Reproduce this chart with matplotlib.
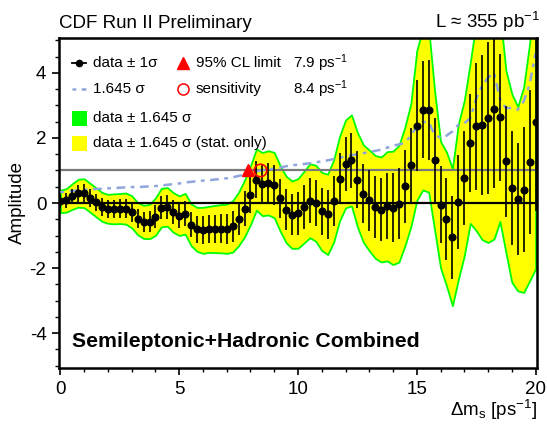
import numpy as np
import matplotlib
matplotlib.use("Agg")
import matplotlib.pyplot as plt
from matplotlib.lines import Line2D
from matplotlib.patches import Rectangle

plt.rcParams['font.family'] = ['Liberation Sans', 'DejaVu Sans']
plt.rcParams['mathtext.fontset'] = 'custom'
plt.rcParams['mathtext.rm'] = 'Liberation Sans'
plt.rcParams['mathtext.it'] = 'Liberation Sans:italic'
plt.rcParams['axes.unicode_minus'] = False

# ---- data ----
dms = np.arange(0, 20.01, 0.25)
amplitude = [
    0.05, 0.08, 0.20, 0.30, 0.30, 0.16, 0.02, -0.12, -0.18, -0.18,
    -0.17, -0.17, -0.27, -0.48, -0.58, -0.57, -0.42, -0.14, -0.12, -0.29,
    -0.39, -0.33, -0.67, -0.81, -0.84, -0.81, -0.80, -0.79, -0.79, -0.72,
    -0.49, -0.17, 0.24, 0.72, 0.58, 0.62, 0.55, 0.14, -0.20, -0.36,
    -0.32, -0.13, 0.07, -0.01, -0.26, -0.35, 0.06, 0.75, 1.20, 1.31,
    0.72, 0.29, 0.08, -0.12, -0.20, -0.10, -0.15, -0.02, 0.51, 1.16,
    2.38, 2.87, 2.85, 1.31, -0.05, -0.49, -1.05, 0.04, 0.77, 1.84,
    2.36, 2.41, 2.62, 2.89, 2.64, 1.28, 0.46, 0.13, 0.41, 1.26,
    2.50]
sigma = [
    0.21, 0.22, 0.24, 0.26, 0.27, 0.27, 0.27, 0.27, 0.27, 0.28,
    0.28, 0.29, 0.30, 0.30, 0.31, 0.32, 0.35, 0.36, 0.36, 0.37,
    0.37, 0.38, 0.39, 0.41, 0.43, 0.43, 0.44, 0.45, 0.46, 0.48,
    0.50, 0.53, 0.55, 0.57, 0.59, 0.60, 0.61, 0.61, 0.62, 0.63,
    0.65, 0.67, 0.69, 0.71, 0.73, 0.75, 0.77, 0.79, 0.82, 0.85,
    0.88, 0.91, 0.94, 0.96, 0.98, 1.02, 1.06, 1.09, 1.11, 1.15,
    1.40, 1.50, 1.53, 1.30, 1.18, 1.25, 1.28, 1.45, 1.45, 1.50,
    1.95, 2.15, 2.33, 2.43, 1.95, 1.70, 1.76, 1.72, 1.92, 2.22,
    2.75]
sens_1645 = [
    0.33, 0.35, 0.37, 0.39, 0.41, 0.42, 0.43, 0.44, 0.45, 0.46,
    0.47, 0.48, 0.49, 0.49, 0.50, 0.51, 0.52, 0.54, 0.56, 0.58,
    0.60, 0.63, 0.65, 0.67, 0.69, 0.70, 0.72, 0.74, 0.76, 0.79,
    0.83, 0.88, 0.92, 0.97, 1.01, 1.03, 1.06, 1.09, 1.13, 1.16,
    1.18, 1.20, 1.22, 1.25, 1.28, 1.31, 1.35, 1.39, 1.43, 1.47,
    1.50, 1.53, 1.57, 1.60, 1.64, 1.70, 1.76, 1.80, 1.85, 2.07,
    2.36, 2.49, 2.49, 2.10, 2.00, 2.07, 2.20, 2.40, 2.45, 2.60,
    3.20, 3.60, 3.85, 4.00, 3.20, 2.92, 2.92, 2.87, 3.13, 3.65,
    4.60]
cl_limit = 7.9
sensitivity = 8.4

A = np.array(amplitude)
S = np.array(sigma)

W, H = 547, 424
fig = plt.figure(figsize=(W/100, H/100), dpi=100)
ax = fig.add_axes([59/W, 1-368/H, (537-59)/W, (368-38)/H])

# bands
ax.fill_between(dms, A - 1.645*S, A + 1.645*S, facecolor='#ffff00',
                edgecolor='#00ff00', linewidth=1.3, zorder=1)
ax.axhline(1.0, color='#7a7a7a', lw=1.6, zorder=2)
ax.axhline(0.0, color='black', lw=1.6, zorder=2)
ax.plot(dms, sens_1645, color='#8fa6dc', lw=1.8, dashes=(1.5, 2.2, 3.5, 2.2), zorder=3)
ax.errorbar(dms, A, yerr=S, fmt='o', color='black', ms=4.8, elinewidth=1.2,
            capsize=0, zorder=4)
ax.plot([cl_limit], [1.0], marker='^', color='red', ms=9, ls='none', zorder=5)
ax.plot([sensitivity], [1.0], marker='o', mfc='none', mec='red', mew=1.2, ms=9,
        ls='none', zorder=5)

ax.set_xlim(-0.06, 20.06)
ax.set_ylim(-5.07, 5.07)
ax.set_xticks([0, 5, 10, 15, 20])
ax.set_xticks(np.arange(0, 21, 1), minor=True)
ax.set_yticks([-4, -2, 0, 2, 4])
ax.set_yticks(np.arange(-5, 5.01, 0.5), minor=True)
ax.tick_params(which='major', direction='out', length=5, width=1.2, labelsize=13.5, pad=4)
ax.tick_params(which='minor', direction='out', length=3, width=1.0)
for sp in ax.spines.values():
    sp.set_linewidth(1.8)

ax.set_ylabel('Amplitude', fontsize=13.5)
ax.yaxis.set_label_coords(-0.069, 0.5)
fig.text(537/W, 1-416/H, r'$\Delta$m$_{\rm s}$ [ps$^{-1}$]', fontsize=13.5,
         ha='right', va='baseline')
fig.text(59/W, 1-28/H, 'CDF Run II Preliminary', fontsize=13.5, ha='left', va='baseline')
fig.text(540/W, 1-28/H, 'L \u2248 355 pb$^{-1}$', fontsize=13.5, ha='right', va='baseline')
ax.text(0.027, 0.065, 'Semileptonic+Hadronic Combined', transform=ax.transAxes,
        fontsize=15.3, fontweight='bold', ha='left', va='baseline')

# legend keys (figure pixel coordinates)
def fx(px):
    return px / W

def fy(py):
    return 1 - py / H

fs = 11
fig.add_artist(Line2D([fx(72), fx(86)], [fy(63), fy(63)], color='black', lw=1.3))
fig.add_artist(Line2D([fx(79)], [fy(63)], marker='o', color='black', ms=4.5))
fig.text(fx(93), fy(63), 'data \u00b1 1\u03c3', fontsize=fs, va='center')
fig.add_artist(Line2D([fx(72), fx(86)], [fy(89), fy(89)], color='#8fa6dc', lw=1.8,
                      dashes=(1.5, 2.2, 3.5, 2.2)))
fig.text(fx(93), fy(89), '1.645 \u03c3', fontsize=fs, va='center')
fig.add_artist(Rectangle((fx(72), fy(126)), fx(15), 15/H, facecolor='#00ff00',
                         edgecolor='none'))
fig.text(fx(93), fy(118), 'data \u00b1 1.645 \u03c3', fontsize=fs, va='center')
fig.add_artist(Rectangle((fx(72), fy(151)), fx(15), 15/H, facecolor='#ffff00',
                         edgecolor='none'))
fig.text(fx(93), fy(143), 'data \u00b1 1.645 \u03c3 (stat. only)', fontsize=fs, va='center')
fig.add_artist(Line2D([fx(183)], [fy(63)], marker='^', color='red', ms=8))
fig.text(fx(196), fy(63), '95% CL limit', fontsize=fs, va='center')
fig.text(fx(293), fy(63), '%.1f ps$^{-1}$' % cl_limit, fontsize=fs, va='center')
fig.add_artist(Line2D([fx(183)], [fy(89)], marker='o', mfc='none', mec='red', mew=1.1, ms=8))
fig.text(fx(196), fy(89), 'sensitivity', fontsize=fs, va='center')
fig.text(fx(293), fy(89), '%.1f ps$^{-1}$' % sensitivity, fontsize=fs, va='center')

fig.savefig('out.png', dpi=100)
